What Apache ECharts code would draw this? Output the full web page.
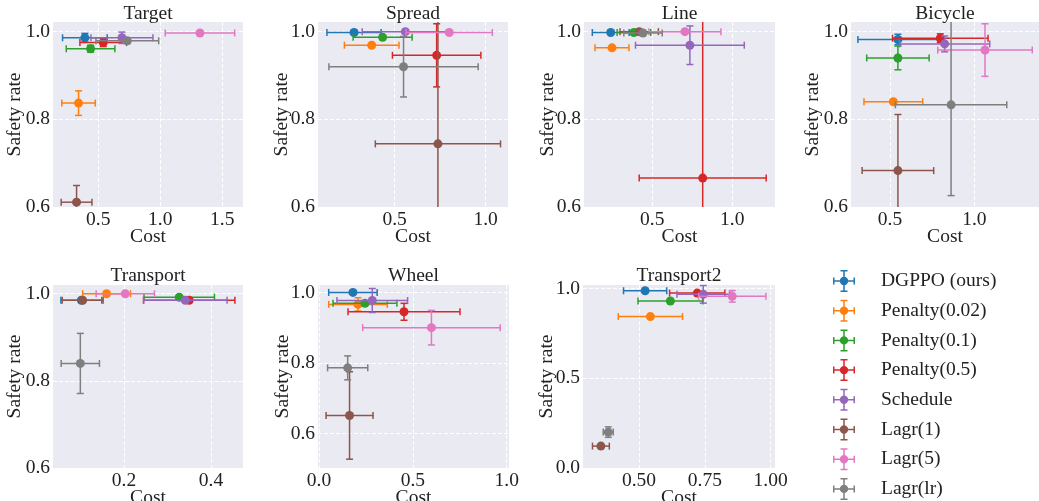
<!DOCTYPE html>
<html>
<head>
<meta charset="utf-8">
<script src="https://cdn.jsdelivr.net/npm/echarts@6/dist/echarts.min.js"></script>
<style>
html,body{margin:0;padding:0;background:#fff;}
#chart{width:1039px;height:501px;}
</style>
</head>
<body>
<div id="chart"></div>
<script>
// ---------- data ----------
const methods = ['DGPPO (ours)', 'Penalty(0.02)', 'Penalty(0.1)', 'Penalty(0.5)', 'Schedule', 'Lagr(1)', 'Lagr(5)', 'Lagr(lr)'];
const titles = ['Target', 'Spread', 'Line', 'Bicycle', 'Transport', 'Wheel', 'Transport2'];

// each row: [cost, safety rate, cost err, safety err], in method order
const target = [
  [0.392, 0.986, 0.180, 0.010],
  [0.341, 0.837, 0.135, 0.028],
  [0.438, 0.961, 0.196, 0.008],
  [0.540, 0.975, 0.188, 0.009],
  [0.691, 0.986, 0.250, 0.013],
  [0.325, 0.611, 0.124, 0.038],
  [1.320, 0.997, 0.280, 0.004],
  [0.734, 0.979, 0.253, 0.006]
];
const spread = [
  [0.277, 0.998, 0.149, 0.004],
  [0.374, 0.969, 0.150, 0.004],
  [0.434, 0.987, 0.162, 0.005],
  [0.731, 0.946, 0.243, 0.072],
  [0.559, 1.000, 0.237, 0.004],
  [0.738, 0.744, 0.344, 0.300],
  [0.800, 0.998, 0.237, 0.004],
  [0.549, 0.920, 0.410, 0.069]
];
const line = [
  [0.240, 0.998, 0.115, 0.003],
  [0.248, 0.963, 0.106, 0.003],
  [0.385, 0.998, 0.105, 0.003],
  [0.815, 0.666, 0.397, 0.360],
  [0.735, 0.969, 0.340, 0.044],
  [0.418, 1.000, 0.120, 0.003],
  [0.704, 1.000, 0.225, 0.003],
  [0.442, 0.997, 0.120, 0.003]
];
const bicycle = [
  [0.547, 0.982, 0.237, 0.012],
  [0.520, 0.840, 0.174, 0.003],
  [0.547, 0.940, 0.185, 0.027],
  [0.798, 0.985, 0.283, 0.010],
  [0.824, 0.972, 0.267, 0.018],
  [0.547, 0.683, 0.212, 0.128],
  [1.063, 0.958, 0.280, 0.060],
  [0.862, 0.833, 0.330, 0.207]
];
const transport = [
  [0.102, 0.985, 0.047, 0.003],
  [0.160, 1.000, 0.055, 0.002],
  [0.327, 0.992, 0.081, 0.004],
  [0.350, 0.985, 0.105, 0.004],
  [0.341, 0.985, 0.096, 0.004],
  [0.105, 0.985, 0.047, 0.003],
  [0.203, 1.000, 0.067, 0.002],
  [0.0996, 0.840, 0.044, 0.069]
];
const wheel = [
  [0.181, 1.000, 0.129, 0.004],
  [0.208, 0.966, 0.156, 0.019],
  [0.245, 0.969, 0.170, 0.004],
  [0.453, 0.945, 0.298, 0.024],
  [0.284, 0.977, 0.188, 0.034],
  [0.163, 0.651, 0.125, 0.124],
  [0.599, 0.900, 0.366, 0.049],
  [0.153, 0.786, 0.107, 0.034]
];
const transport2 = [
  [0.523, 0.987, 0.082, 0.006],
  [0.543, 0.843, 0.122, 0.006],
  [0.619, 0.930, 0.123, 0.006],
  [0.721, 0.974, 0.105, 0.008],
  [0.744, 0.967, 0.100, 0.049],
  [0.355, 0.122, 0.032, 0.008],
  [0.854, 0.956, 0.128, 0.032],
  [0.383, 0.200, 0.019, 0.029]
];
const panels = [target, spread, line, bicycle, transport, wheel, transport2];

const xTicks = [[0.5, 1.0, 1.5], [0.5, 1.0], [0.5, 1.0], [0.5, 1.0], [0.2, 0.4], [0.0, 0.5, 1.0], [0.5, 0.75, 1.0]];
const yTicks = [[0.6, 0.8, 1.0], [0.6, 0.8, 1.0], [0.6, 0.8, 1.0], [0.6, 0.8, 1.0], [0.6, 0.8, 1.0], [0.6, 0.8, 1.0], [0.0, 0.5, 1.0]];
const xDecimals = [1, 1, 1, 1, 1, 1, 2];
const yDecimals = [1, 1, 1, 1, 1, 1, 1];

// ---------- layout & style ----------
const colors = ['#1f77b4', '#ff7f0e', '#2ca02c', '#d62728', '#9467bd', '#8c564b', '#e377c2', '#7f7f7f'];
const grids = [
  {left: 53, top: 22, width: 190, height: 185},
  {left: 318, top: 22, width: 190, height: 185},
  {left: 584, top: 22, width: 191, height: 185},
  {left: 851, top: 22, width: 188, height: 185},
  {left: 53, top: 285, width: 190, height: 183},
  {left: 318, top: 285, width: 191, height: 183},
  {left: 583, top: 285, width: 192, height: 183}
];
const titleOffset = [18, 18, 18, 18, 19, 19, 19];
const xRange = [[0.135, 1.667], [0.079, 1.123], [0.073, 1.267], [0.269, 1.383], [0.0368, 0.4736], [-0.005, 1.012], [0.287, 1.0165]];
const yRange = [[0.6, 1.022], [0.6, 1.022], [0.6, 1.022], [0.6, 1.022], [0.6, 1.02], [0.502, 1.021], [0.0, 1.019]];
const yNameGap = [28, 26, 26, 28, 28, 25, 26];

const FONT = 'Liberation Serif';
const FS = 19.5;
const TXT = '#222222';

const legendIcon = 'path://M0,10.25H22V11.75H0Z M0,7.5H1.5V14.5H0Z M20.5,7.5H22V14.5H20.5Z M10.25,0H11.75V22H10.25Z M7.5,0H14.5V1.5H7.5Z M7.5,20.5H14.5V22H7.5Z M15.2,11A4.2,4.2 0 1,1 6.8,11A4.2,4.2 0 1,1 15.2,11Z';

function renderErr(params, api) {
  const x = api.value(0), y = api.value(1), ex = api.value(2), ey = api.value(3);
  const c = api.coord([x, y]);
  const l = api.coord([x - ex, y]);
  const r = api.coord([x + ex, y]);
  const t = api.coord([x, y + ey]);
  const b = api.coord([x, y - ey]);
  const cs = params.coordSys;
  const x0 = cs.x, x1 = cs.x + cs.width, y0 = cs.y, y1 = cs.y + cs.height;
  const cx = v => Math.max(x0, Math.min(x1, v));
  const cy = v => Math.max(y0, Math.min(y1, v));
  const color = api.visual('color');
  const ls = {stroke: color, lineWidth: 1.5};
  const cap = 3.5;
  const ch = [];
  // horizontal bar
  ch.push({type: 'line', shape: {x1: cx(l[0]), y1: c[1], x2: cx(r[0]), y2: c[1]}, style: ls});
  if (l[0] >= x0) ch.push({type: 'line', shape: {x1: l[0], y1: c[1] - cap, x2: l[0], y2: c[1] + cap}, style: ls});
  if (r[0] <= x1) ch.push({type: 'line', shape: {x1: r[0], y1: c[1] - cap, x2: r[0], y2: c[1] + cap}, style: ls});
  // vertical bar
  ch.push({type: 'line', shape: {x1: c[0], y1: cy(t[1]), x2: c[0], y2: cy(b[1])}, style: ls});
  if (t[1] >= y0) ch.push({type: 'line', shape: {x1: c[0] - cap, y1: t[1], x2: c[0] + cap, y2: t[1]}, style: ls});
  if (b[1] <= y1) ch.push({type: 'line', shape: {x1: c[0] - cap, y1: b[1], x2: c[0] + cap, y2: b[1]}, style: ls});
  // marker
  ch.push({type: 'circle', shape: {cx: c[0], cy: c[1], r: 4.5}, style: {fill: color}});
  return {type: 'group', children: ch};
}

const fmt = d => v => Number(v).toFixed(d);

const option = {
  animation: false,
  backgroundColor: '#ffffff',
  title: titles.map((t, i) => ({
    text: t,
    left: grids[i].left + grids[i].width / 2,
    top: grids[i].top - titleOffset[i],
    textAlign: 'center',
    padding: 0,
    textStyle: {fontFamily: FONT, fontSize: FS, fontWeight: 'normal', color: TXT}
  })),
  legend: {
    orient: 'vertical',
    left: 833,
    top: 270,
    padding: 0,
    itemWidth: 22,
    itemHeight: 22,
    itemGap: 7.7,
    data: methods.map(m => ({name: m, icon: legendIcon})),
    textStyle: {fontFamily: FONT, fontSize: FS, color: TXT, padding: [0, 0, 0, 21]}
  },
  grid: grids.map(g => Object.assign({
    show: true, backgroundColor: '#EAEAF2', borderWidth: 0, containLabel: false, outerBoundsMode: 'none'
  }, g)),
  xAxis: panels.map((p, i) => ({
    type: 'value', gridIndex: i, min: xRange[i][0], max: xRange[i][1],
    name: 'Cost', nameLocation: 'middle', nameGap: 20, nameMoveOverlap: false,
    nameTextStyle: {fontFamily: FONT, fontSize: FS, color: TXT},
    axisLine: {show: false},
    axisTick: {show: false, customValues: xTicks[i]},
    axisLabel: {customValues: xTicks[i], formatter: fmt(xDecimals[i]), margin: 3,
      fontFamily: FONT, fontSize: FS, color: TXT},
    splitLine: {show: true, lineStyle: {color: '#ffffff', type: [4, 2], width: 1}}
  })),
  yAxis: panels.map((p, i) => ({
    type: 'value', gridIndex: i, min: yRange[i][0], max: yRange[i][1],
    name: 'Safety rate', nameLocation: 'middle', nameGap: yNameGap[i], nameRotate: 90, nameMoveOverlap: false,
    nameTextStyle: {fontFamily: FONT, fontSize: FS, color: TXT},
    axisLine: {show: false},
    axisTick: {show: false, customValues: yTicks[i]},
    axisLabel: {customValues: yTicks[i], formatter: fmt(yDecimals[i]), margin: 3,
      fontFamily: FONT, fontSize: FS, color: TXT},
    splitLine: {show: true, lineStyle: {color: '#ffffff', type: [4, 2], width: 1}}
  })),
  series: []
};

panels.forEach((p, i) => {
  methods.forEach((m, k) => {
    option.series.push({
      type: 'custom',
      name: m,
      xAxisIndex: i,
      yAxisIndex: i,
      itemStyle: {color: colors[k]},
      renderItem: renderErr,
      encode: {x: 0, y: 1},
      data: [p[k]]
    });
  });
});

const chart = echarts.init(document.getElementById('chart'), null, {renderer: 'canvas'});
chart.setOption(option);
</script>
</body>
</html>
